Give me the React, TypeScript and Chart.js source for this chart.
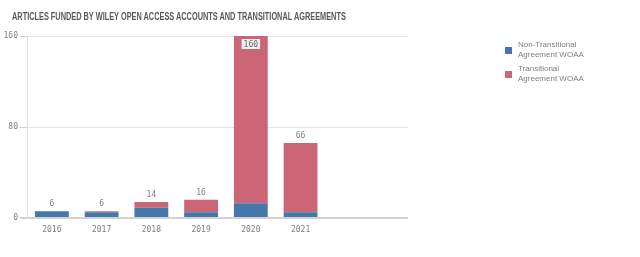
import React, { useEffect, useRef } from 'react';
import { Chart, registerables } from 'chart.js';

Chart.register(...registerables);

const title = 'ARTICLES FUNDED BY WILEY OPEN ACCESS ACCOUNTS AND TRANSITIONAL AGREEMENTS';
const years = [2016, 2017, 2018, 2019, 2020, 2021];
const nonTransitional = [6, 5, 9, 5, 13, 5];
const transitional = [0, 1, 5, 11, 147, 61];
const yTicks = [0, 80, 160];
const seriesLabels = [
  ['Non-Transitional', 'Agreement WOAA'],
  ['Transitional', 'Agreement WOAA'],
];
const seriesColors = ['#4477aa', '#cc6677'];

const monoFont = { family: "'DejaVu Sans Mono', monospace", size: 8 };
const tickColor = '#7f7f7f';

const totalsPlugin = {
  id: 'totals',
  afterDatasetsDraw(chart: any) {
    const { ctx, chartArea, scales } = chart;
    const xs = scales.x;
    const ys = scales.y;
    ctx.save();
    ctx.font = `${monoFont.size}px ${monoFont.family}`;
    ctx.textAlign = 'center';
    ctx.textBaseline = 'middle';
    years.forEach((yr, i) => {
      const total = nonTransitional[i] + transitional[i];
      const x = xs.getPixelForValue(yr);
      const y = ys.getPixelForValue(total);
      const text = String(total);
      if (y - 12 < chartArea.top) {
        const w = ctx.measureText(text).width + 4;
        const h = 10;
        const top = y + 3;
        ctx.fillStyle = '#f2f2f2';
        ctx.fillRect(x - w / 2, top, w, h);
        ctx.fillStyle = '#666666';
        ctx.fillText(text, x, top + h / 2 + 0.5);
      } else {
        ctx.fillStyle = '#7f7f7f';
        ctx.fillText(text, x, y - 7);
      }
    });
    ctx.restore();
  },
};

export default function App() {
  const canvasRef = useRef<HTMLCanvasElement | null>(null);

  useEffect(() => {
    document.body.style.margin = '0';
    const canvas = canvasRef.current;
    if (!canvas) return;
    const chart = new Chart(canvas, {
      type: 'bar',
      data: {
        datasets: [
          {
            label: seriesLabels[0].join(' '),
            data: years.map((yr, i) => ({ x: yr, y: nonTransitional[i] })),
            backgroundColor: seriesColors[0],
            borderWidth: 0,
            barPercentage: 0.68,
            categoryPercentage: 1,
          },
          {
            label: seriesLabels[1].join(' '),
            data: years.map((yr, i) => ({ x: yr, y: transitional[i] })),
            backgroundColor: seriesColors[1],
            borderWidth: 0,
            barPercentage: 0.68,
            categoryPercentage: 1,
          },
        ],
      },
      options: {
        animation: false,
        responsive: false,
        maintainAspectRatio: false,
        layout: { padding: { top: 36, right: 232, left: 0, bottom: 0 } },
        plugins: {
          legend: { display: false },
          tooltip: { enabled: false },
          title: { display: false },
        },
        scales: {
          x: {
            type: 'linear',
            stacked: true,
            offset: false,
            min: 2015.5,
            max: 2023.16,
            grid: { display: false, offset: false },
            border: { display: false },
            afterBuildTicks: (s: any) => {
              s.ticks = years.map((v) => ({ value: v }));
            },
            afterFit: (s: any) => {
              s.height = 39;
            },
            ticks: {
              autoSkip: false,
              maxRotation: 0,
              padding: -1,
              font: monoFont,
              color: tickColor,
              callback: (v: any) => String(v),
            },
          },
          y: {
            stacked: true,
            min: 0,
            max: 160,
            afterBuildTicks: (s: any) => {
              s.ticks = yTicks.map((v) => ({ value: v }));
            },
            afterFit: (s: any) => {
              s.width = 27;
            },
            grid: {
              color: (c: any) => (c.tick && c.tick.value === 0 ? '#d2d2d2' : '#e4e4e4'),
              lineWidth: (c: any) => (c.tick && c.tick.value === 0 ? 2 : 1),
              tickColor: '#d2d2d2',
              tickLength: 7,
              drawTicks: true,
            },
            border: { display: true, color: '#dedede', width: 1 },
            ticks: {
              padding: 2,
              font: monoFont,
              color: tickColor,
              callback: (v: any) => String(v),
            },
          },
        },
      } as any,
      plugins: [totalsPlugin],
    });
    return () => chart.destroy();
  }, []);

  return (
    <div style={{ position: 'relative', width: 640, height: 257, background: '#ffffff', overflow: 'hidden' }}>
      <canvas ref={canvasRef} width={640} height={257} style={{ position: 'absolute', left: 0, top: 0 }} />
      <div
        style={{
          position: 'absolute',
          left: 12,
          top: 11,
          fontFamily: "'Liberation Sans', Arial, sans-serif",
          fontWeight: 'bold',
          fontSize: 10,
          lineHeight: '12px',
          color: '#595959',
          whiteSpace: 'nowrap',
          transform: 'scaleX(0.736)',
          transformOrigin: '0 0',
        }}
      >
        {title}
      </div>
      <div style={{ position: 'absolute', left: 505, top: 40 }}>
        {seriesLabels.map((lines, i) => (
          <div key={i} style={{ display: 'flex', alignItems: 'center', marginBottom: 4 }}>
            <div style={{ width: 7, height: 7, background: seriesColors[i], marginRight: 6, flexShrink: 0 }} />
            <div
              style={{
                fontFamily: "'Liberation Sans', Arial, sans-serif",
                fontSize: 8,
                lineHeight: '10px',
                color: '#7f7f7f',
                whiteSpace: 'nowrap',
              }}
            >
              {lines.map((l, j) => (
                <div key={j}>{l}</div>
              ))}
            </div>
          </div>
        ))}
      </div>
    </div>
  );
}
